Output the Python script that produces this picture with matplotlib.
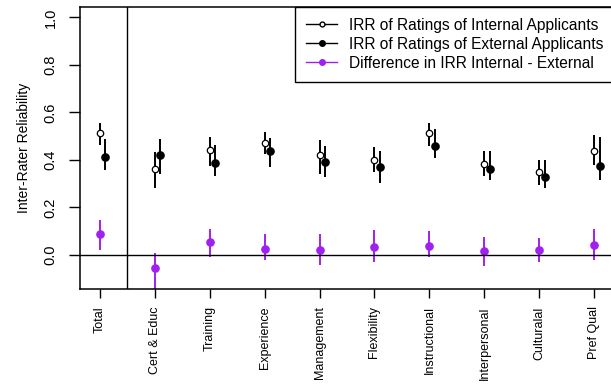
import numpy as np
import matplotlib
matplotlib.use("Agg")
import matplotlib.pyplot as plt
from matplotlib.lines import Line2D

plt.rcParams["font.family"] = ["Liberation Sans", "DejaVu Sans"]

categories = ["Total", "Cert & Educ", "Training", "Experience", "Management",
              "Flexibility", "Instructional", "Interpersonal", "Culturalal", "Pref Qual"]

internal = [0.514, 0.361, 0.442, 0.471, 0.421, 0.399, 0.514, 0.384, 0.350, 0.437]
internal_lo = [0.463, 0.281, 0.375, 0.424, 0.342, 0.347, 0.458, 0.332, 0.294, 0.379]
internal_hi = [0.557, 0.433, 0.498, 0.519, 0.482, 0.454, 0.557, 0.438, 0.399, 0.504]

external = [0.414, 0.421, 0.388, 0.437, 0.393, 0.371, 0.459, 0.361, 0.328, 0.376]
external_lo = [0.358, 0.342, 0.330, 0.368, 0.326, 0.304, 0.408, 0.315, 0.281, 0.316]
external_hi = [0.487, 0.487, 0.461, 0.492, 0.459, 0.438, 0.531, 0.438, 0.399, 0.498]

diff = [0.088, -0.055, 0.055, 0.026, 0.021, 0.032, 0.039, 0.017, 0.021, 0.043]
diff_lo = [0.019, -0.160, -0.008, -0.024, -0.041, -0.029, -0.008, -0.046, -0.029, -0.020]
diff_hi = [0.148, 0.008, 0.110, 0.089, 0.089, 0.105, 0.099, 0.077, 0.071, 0.110]

purple = "#A020F0"
x = np.arange(1, len(categories) + 1)
xe = x + 0.1

fig = plt.figure(figsize=(6.11, 3.85), dpi=100)
ax = fig.add_axes([0.1309, 0.2494, 0.8741, 0.7324])

ax.vlines(x, internal_lo, internal_hi, color="black", lw=1.4)
ax.plot(x, internal, "o", ms=4.6, mfc="white", mec="black", mew=0.9, ls="none")
ax.vlines(xe, external_lo, external_hi, color="black", lw=1.4)
ax.plot(xe, external, "o", ms=5.2, color="black", ls="none")
ax.vlines(x, diff_lo, diff_hi, color=purple, lw=1.4)
ax.plot(x, diff, "o", ms=5.2, color=purple, ls="none")

ax.axhline(0, color="black", lw=1.0)
ax.axvline(1.5, color="black", lw=1.0)

ax.set_xlim(0.64, 10.36)
ax.set_ylim(-0.144, 1.044)
ax.set_yticks([0.0, 0.2, 0.4, 0.6, 0.8, 1.0])
ax.set_yticklabels(["0.0", "0.2", "0.4", "0.6", "0.8", "1.0"], rotation=90, va="center")
ax.set_xticks(x)
ax.set_xticklabels(categories, rotation=90, fontsize=9)
ax.tick_params(axis="y", length=8, width=1.0, pad=8, labelsize=10.5)
ax.tick_params(axis="x", length=6.5, width=1.0, pad=6)
for s in ax.spines.values():
    s.set_linewidth(1.1)
ax.set_ylabel("Inter-Rater Reliability", fontsize=10, labelpad=9)

handles = [
    Line2D([], [], color="black", lw=1, marker="o", ms=3.5, mfc="white", mec="black"),
    Line2D([], [], color="black", lw=1, marker="o", ms=4),
    Line2D([], [], color=purple, lw=1, marker="o", ms=4),
]
labels = ["IRR of Ratings of Internal Applicants",
          "IRR of Ratings of External Applicants",
          "Difference in IRR Internal - External"]
leg = ax.legend(handles, labels, loc="upper right", bbox_to_anchor=(1.0, 1.0),
                fontsize=11.2, fancybox=False, framealpha=1, edgecolor="black",
                borderaxespad=0, labelspacing=0.25, handlelength=2.0, handletextpad=0.75,
                borderpad=0.7)
leg.get_frame().set_linewidth(1.0)

fig.savefig("out.png", dpi=100)
